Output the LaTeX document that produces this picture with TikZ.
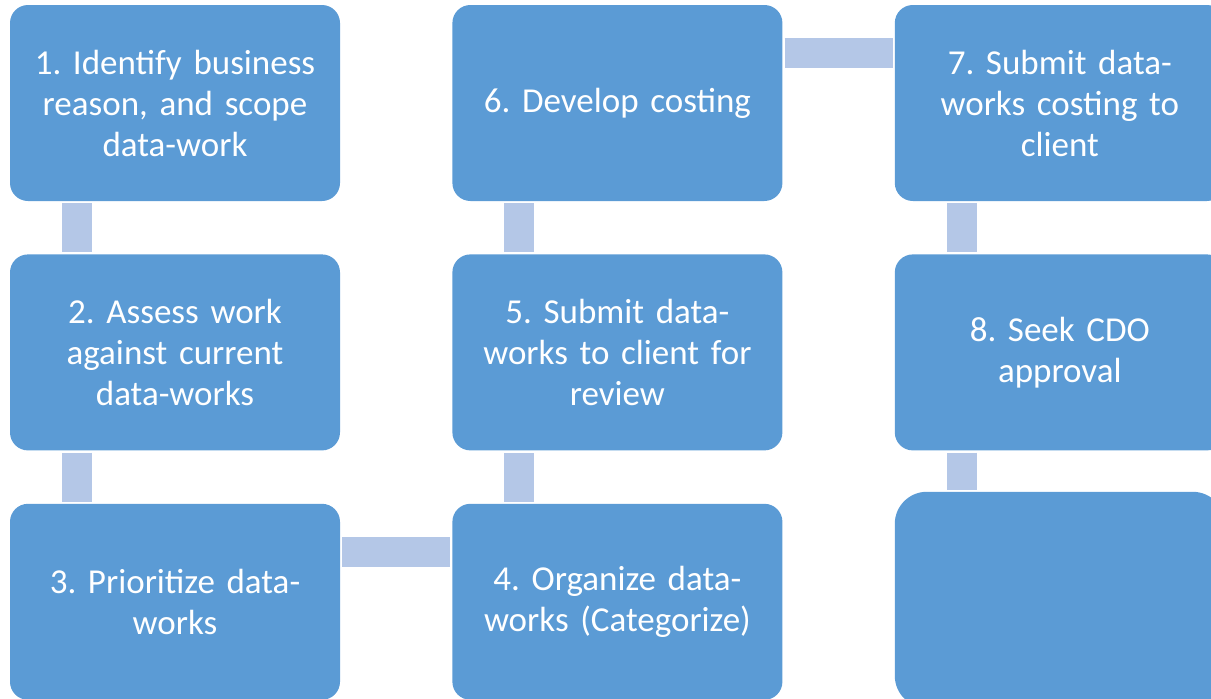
\documentclass[tikz,border=0pt]{standalone}
\usepackage{fontspec}
\setmainfont{Carlito}
\usepackage{tikz}
\usetikzlibrary{positioning}
\definecolor{boxblue}{HTML}{5B9BD5}
\definecolor{linkblue}{HTML}{B4C7E7}
\frenchspacing

\begin{document}
\begin{tikzpicture}
        [ x = 1pt, y = 1pt
        , stepbox/.style =
          { fill = boxblue, rounded corners = 18pt
          , minimum width = 330pt, minimum height = 196pt
          , text width = 320pt, align = center, inner sep = 0pt
          , text = white, font = \fontsize{35}{41}\selectfont }
        , lastbox/.style =
          { stepbox, rounded corners = 32pt, minimum height = 216pt }
        , link/.style =
          { linkblue, line width = 30pt, shorten >=2pt, shorten <=2pt }
        ]
        \useasboundingbox (0,0) rectangle (1211,-699);
        \node [stepbox] (s1) at (175,-103)
          {1. Identify business\\ reason, and scope\\ data-work};
        \node [stepbox] (s2) [below=53pt of s1]
          {2. Assess work\\ against current\\ data-works};
        \node [stepbox] (s3) [below=53pt of s2]
          {3. Prioritize data-\\ works};
        \node [stepbox] (s4) [right=112pt of s3]
          {4. Organize data-\\ works (Categorize)};
        \node [stepbox] (s5) [above=53pt of s4]
          {5. Submit data-\\ works to client for\\ review};
        \node [stepbox] (s6) [above=53pt of s5]
          {6. Develop costing};
        \node [stepbox] (s7) [right=112pt of s6]
          {7. Submit data-\\ works costing to\\ client};
        \node [stepbox] (s8) [below=53pt of s7]
          {8. Seek CDO\\ approval};
        \node [lastbox] (s9) [below=41pt of s8] {};

        \draw [link] ([xshift=-98pt]s1.south) -- ([xshift=-98pt]s2.north);
        \draw [link] ([xshift=-98pt]s2.south) -- ([xshift=-98pt]s3.north);
        \draw [link] ([yshift=50pt]s3.east) -- ([yshift=50pt]s4.west);
        \draw [link] ([xshift=-98pt]s4.north) -- ([xshift=-98pt]s5.south);
        \draw [link] ([xshift=-98pt]s5.north) -- ([xshift=-98pt]s6.south);
        \draw [link] ([yshift=50pt]s6.east) -- ([yshift=50pt]s7.west);
        \draw [link] ([xshift=-98pt]s7.south) -- ([xshift=-98pt]s8.north);
        \draw [link] ([xshift=-98pt]s8.south) -- ([xshift=-98pt,yshift=-41pt]s8.south);
      \end{tikzpicture}
\end{document}
